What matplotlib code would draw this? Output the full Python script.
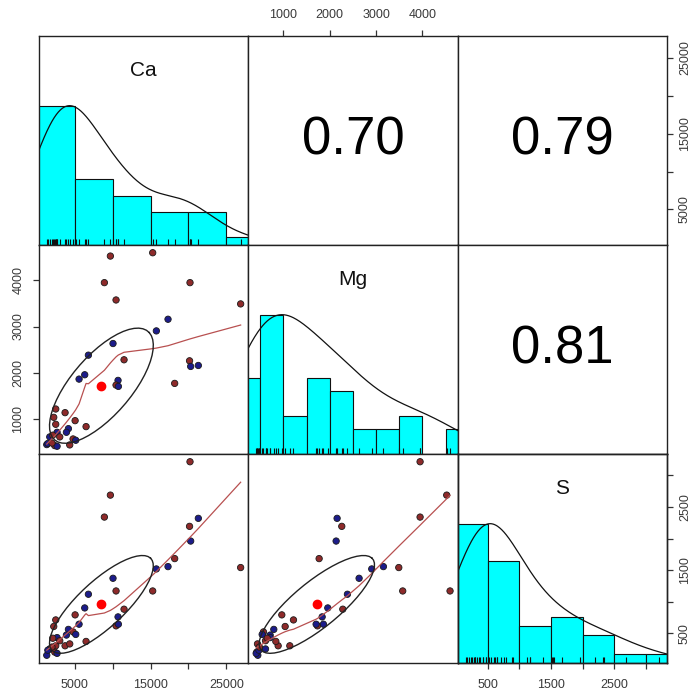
import numpy as np
import matplotlib
matplotlib.use("Agg")
import matplotlib.pyplot as plt

plt.rcParams['font.family'] = ['Liberation Sans', 'DejaVu Sans']

# ---------------- data ----------------
var_names = ["Ca", "Mg", "S"]
ca = [9704, 15287, 8912, 20210, 10451, 26892, 17309, 15770, 10050, 11506,
      6802, 20150, 20298, 21309, 6319, 5571, 10714, 10451, 10759, 18188,
      2494, 3725, 2230, 2494, 5050, 6495, 4165, 3901, 2670, 1703,
      3022, 4780, 5132, 1308, 2362, 2670, 4341, 1450, 2000, 2100]
mg = [4525, 4597, 3950, 3950, 3575, 3490, 3158, 2906, 2633, 2281,
      2381, 2259, 2137, 2158, 1957, 1863, 1835, 1734, 1705, 1770,
      1216, 1137, 1036, 885, 964, 835, 791, 712, 712, 612,
      612, 568, 540, 446, 424, 410, 439, 470, 480, 650]
s = [2688, 1169, 2340, 3217, 1169, 1540, 1555, 1518, 1370, 880,
     1117, 2193, 1960, 2320, 900, 642, 758, 616, 642, 1682,
     710, 300, 606, 300, 790, 369, 560, 470, 430, 250,
     380, 520, 480, 150, 200, 180, 330, 230, 280, 420]
group = [0, 0, 0, 0, 0, 0, 1, 1, 1, 0,
         1, 0, 1, 1, 1, 1, 1, 0, 1, 0,
         0, 0, 0, 0, 0, 0, 1, 1, 1, 1,
         0, 0, 1, 1, 0, 1, 0, 1, 0, 0]
group_colors = ["#8E2A2A", "#1C1C8A"]

cor_pairs = [(0, 1), (0, 2), (1, 2)]
cor_values = [0.70, 0.79, 0.81]
cor_text = ["0.70", "0.79", "0.81"]

bin_width = [5000, 500, 500]
tick_values = [[5000, 10000, 15000, 20000, 25000],
               [1000, 2000, 3000, 4000],
               [500, 1000, 1500, 2000, 2500, 3000]]
tick_labels = [["5000", "", "15000", "", "25000"],
               ["1000", "2000", "3000", "4000"],
               ["500", "", "1500", "", "2500", ""]]

data = [np.array(ca, float), np.array(mg, float), np.array(s, float)]
n = len(ca)
pt_colors = [group_colors[g] for g in group]


# ---------------- helpers ----------------
def rng(v):
    lo, hi = v.min(), v.max()
    r = hi - lo
    return lo - 0.04 * r, hi + 0.04 * r


def kde(v, adjust=1.2):
    q1, q3 = np.percentile(v, [25, 75])
    h = 1.06 * min(v.std(ddof=1), (q3 - q1) / 1.34) * len(v) ** (-0.2)
    bw = h * adjust
    grid = np.linspace(v.min() - 3 * bw, v.max() + 3 * bw, 512)
    d = np.exp(-0.5 * ((grid[:, None] - v[None, :]) / bw) ** 2).sum(axis=1)
    return grid, d / d.max()


def lowess(x, y, f=2 / 3, iters=3):
    idx = np.argsort(x, kind="stable")
    x = x[idx]
    y = y[idx]
    m = len(x)
    ns = max(2, min(m, int(f * m + 1e-7)))
    rw = np.ones(m)
    fit = np.zeros(m)
    for it in range(iters + 1):
        for i in range(m):
            d = np.abs(x - x[i])
            h = max(np.sort(d)[ns - 1], 1e-12)
            u = d / h
            w = np.where(u < 0.999, (1 - u ** 3) ** 3, 0.0) * rw
            sw = w.sum()
            if sw <= 0:
                fit[i] = y[i]
                continue
            xm = (w * x).sum() / sw
            ym = (w * y).sum() / sw
            b = (w * (x - xm) ** 2).sum()
            slope = (w * (x - xm) * (y - ym)).sum() / b if b > 1e-9 else 0.0
            fit[i] = ym + slope * (x[i] - xm)
        if it == iters:
            break
        res = y - fit
        cmad = 6 * np.median(np.abs(res))
        if cmad == 0:
            break
        u = res / cmad
        rw = np.where(np.abs(u) < 1, (1 - u ** 2) ** 2, 0.0)
    return x, fit


def ellipse(x, y, r):
    xm, ym = x.mean(), y.mean()
    xs, ys = x.std(ddof=1), y.std(ddof=1)
    t = np.sign(r) / np.sqrt(2)
    ang = np.arange(52) * 2 * np.pi / 51
    c, sn = np.cos(ang), np.sin(ang)
    ex = c * np.sqrt(1 + r) * t - sn * np.sqrt(1 - r) * t
    ey = c * np.sqrt(1 + r) * t + sn * np.sqrt(1 - r) * t
    return ex * xs + xm, ey * ys + ym, xm, ym


lims = [rng(v) for v in data]

# ---------------- layout ----------------
FW, FH = 692, 696
fig = plt.figure(figsize=(FW / 100, FH / 100), dpi=100)
X0, Y0, PW, PH = 39, 36, 209.4, 209.0

axes = {}
for i in range(3):
    for j in range(3):
        left = (X0 + j * PW) / FW
        bottom = 1 - (Y0 + (i + 1) * PH) / FH
        ax = fig.add_axes([left, bottom, PW / FW, PH / FH])
        ax.set_xticks([])
        ax.set_yticks([])
        for sp in ax.spines.values():
            sp.set_color("#222222")
            sp.set_linewidth(1.0)
        axes[(i, j)] = ax

TICK_KW = dict(length=4.5, width=0.9, color="#333333", labelsize=9,
               labelcolor="#3a3a3a")

for i in range(3):
    for j in range(3):
        ax = axes[(i, j)]
        if i == j:
            v = data[i]
            bw = bin_width[i]
            edges = np.arange(0, v.max() + bw, bw)
            counts, _ = np.histogram(v, bins=edges)
            heights = counts / counts.max()
            ax.bar(edges[:-1], heights, width=bw, align="edge",
                   color="#00FFFF", edgecolor="#111111", linewidth=0.8,
                   zorder=1)
            gx, gy = kde(v)
            ax.plot(gx, gy, color="#111111", lw=0.9, zorder=2)
            ax.vlines(v, 0, 0.045, color="#111111", lw=0.8, zorder=3)
            ax.set_xlim(*lims[i])
            ax.set_ylim(0, 1.5)
            ax.text(0.5, 0.833, var_names[i], transform=ax.transAxes,
                    ha="center", va="center", fontsize=15, color="#111111")
        elif i > j:
            xv, yv = data[j], data[i]
            ax.scatter(xv, yv, s=21, c=pt_colors, edgecolors="#1a1a1a",
                       linewidths=0.6, zorder=2)
            lx, ly = lowess(xv, yv)
            ax.plot(lx, ly, color="#B85050", lw=0.9, zorder=3)
            r = cor_values[cor_pairs.index((j, i))]
            ex, ey, xm, ym = ellipse(xv, yv, r)
            ax.plot(ex, ey, color="#222222", lw=1.0, zorder=3)
            ax.plot([xm], [ym], "o", color="#FF0000", ms=6, zorder=4)
            ax.set_xlim(*lims[j])
            ax.set_ylim(*lims[i])
        else:
            k = cor_pairs.index((i, j))
            ax.set_xlim(*lims[j])
            ax.set_ylim(*lims[i])
            ax.text(0.5, 0.5, cor_text[k], transform=ax.transAxes,
                    ha="center", va="center", fontsize=38, color="#000000")

# top axis: Mg on panel (0,1)
ax = axes[(0, 1)]
ax.xaxis.tick_top()
ax.set_xticks(tick_values[1])
ax.set_xticklabels(tick_labels[1])
ax.tick_params(axis="x", which="both", top=True, bottom=False, pad=6, **TICK_KW)

# right axis: Ca on panel (0,2)
ax = axes[(0, 2)]
ax.yaxis.tick_right()
ax.set_yticks(tick_values[0])
ax.set_yticklabels(tick_labels[0], rotation=90, va="center")
ax.tick_params(axis="y", right=True, left=False, pad=4, **TICK_KW)

# left axis: Mg on panel (1,0)
ax = axes[(1, 0)]
ax.set_yticks(tick_values[1])
ax.set_yticklabels(tick_labels[1], rotation=90, va="center")
ax.tick_params(axis="y", left=True, pad=6, **TICK_KW)

# bottom axis: Ca on panel (2,0)
ax = axes[(2, 0)]
ax.set_xticks(tick_values[0])
ax.set_xticklabels(tick_labels[0])
ax.tick_params(axis="x", bottom=True, pad=7, **TICK_KW)

# bottom axis: S on panel (2,2)
ax = axes[(2, 2)]
ax.set_xticks(tick_values[2])
ax.set_xticklabels(tick_labels[2])
ax.tick_params(axis="x", bottom=True, pad=7, **TICK_KW)

# right axis: S on panel (2,2) (overlay with S scale)
ax2 = ax.twinx()
ax2.set_ylim(*lims[2])
ax2.set_yticks(tick_values[2])
ax2.set_yticklabels(tick_labels[2], rotation=90, va="center")
ax2.tick_params(axis="y", right=True, pad=4, **TICK_KW)
for sp in ax2.spines.values():
    sp.set_color("#222222")
    sp.set_linewidth(1.0)

fig.savefig("out.png", dpi=100, facecolor="white")
